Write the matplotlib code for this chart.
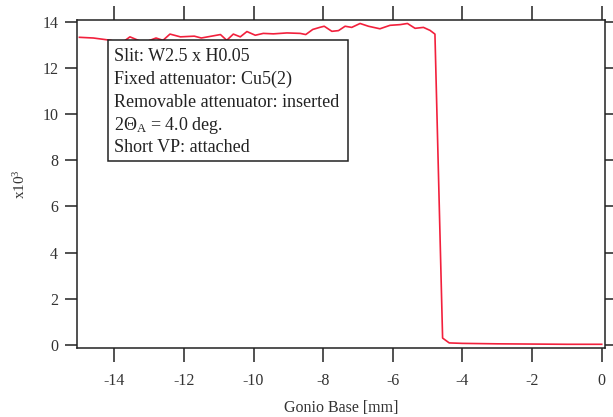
import matplotlib.pyplot as plt
from matplotlib.patches import Rectangle

plt.rcParams['font.family'] = ['Liberation Serif', 'DejaVu Serif']
plt.rcParams['mathtext.fontset'] = 'custom'
plt.rcParams['mathtext.rm'] = 'Liberation Serif'
plt.rcParams['mathtext.it'] = 'Liberation Serif'

# scan of the gonio base position, intensity in units of 10^3
gonio_pos = [-15.0, -14.6, -14.1, -13.8, -13.55, -13.15, -12.8, -12.6, -12.4, -12.1,
             -11.7, -11.5, -10.95, -10.77, -10.58, -10.38, -10.19, -9.95, -9.72, -9.43,
             -9.04, -8.66, -8.5, -8.3, -8.1, -7.97, -7.75, -7.56, -7.37, -7.18,
             -6.94, -6.70, -6.37, -6.08, -5.79, -5.58, -5.36, -5.12, -4.93, -4.79,
             -4.57, -4.38, -4.0, -3.0, -2.0, -1.0, 0.0]
intensity = [13.33, 13.3, 13.2, 13.07, 13.35, 13.1, 13.3, 13.2, 13.47, 13.35,
             13.38, 13.3, 13.45, 13.2, 13.47, 13.35, 13.58, 13.42, 13.5, 13.48,
             13.52, 13.5, 13.45, 13.67, 13.76, 13.81, 13.59, 13.62, 13.81, 13.76,
             13.93, 13.81, 13.7, 13.85, 13.88, 13.93, 13.72, 13.76, 13.63, 13.47,
             0.29, 0.08, 0.06, 0.04, 0.03, 0.02, 0.02]

x_ticks = [-14, -12, -10, -8, -6, -4, -2, 0]
y_ticks = [0, 2, 4, 6, 8, 10, 12, 14]

info_lines = ["Slit: W2.5 x H0.05",
              "Fixed attenuator: Cu5(2)",
              "Removable attenuator: inserted",
              r"2$\Theta_\mathrm{A}$ = 4.0 deg.",
              "Short VP: attached"]

fig = plt.figure(figsize=(6.13, 4.17), dpi=100)
ax = fig.add_axes([0.1256, 0.1655, 0.8614, 0.7865])

ax.plot(gonio_pos, intensity, color='#f2203c', lw=1.2)

ax.set_xlim(-15.07, 0.095)
ax.set_ylim(-0.14, 14.08)
ax.set_xticks(x_ticks)
ax.set_xticklabels([str(t) for t in x_ticks])
ax.set_yticks(y_ticks)

for s in ax.spines.values():
    s.set_linewidth(1.1)
    s.set_color('#222222')

ax.tick_params(axis='both', direction='out', width=1.1, color='#222222',
               labelsize=11.5, labelcolor='#333333')
ax.tick_params(axis='x', length=10, pad=8, top=True)
ax.tick_params(axis='y', length=8.5, pad=5, right=True)

ax.set_xlabel("Gonio Base [mm]", fontsize=11.5, color='#333333', labelpad=8)
ax.set_ylabel(r"x10$^3$", fontsize=11, color='#333333', labelpad=10)

# info box
ax.add_patch(Rectangle((0.059, 0.570), 0.454, 0.369, transform=ax.transAxes,
                       fill=True, facecolor='white', edgecolor='#222222', lw=1.1, zorder=3))
for i, line in enumerate(info_lines):
    ax.text(0.070, 0.888 - i * 0.0694, line, transform=ax.transAxes,
            fontsize=13, color='#222222', va='center', ha='left', zorder=4)

fig.savefig("out.png", dpi=100)
